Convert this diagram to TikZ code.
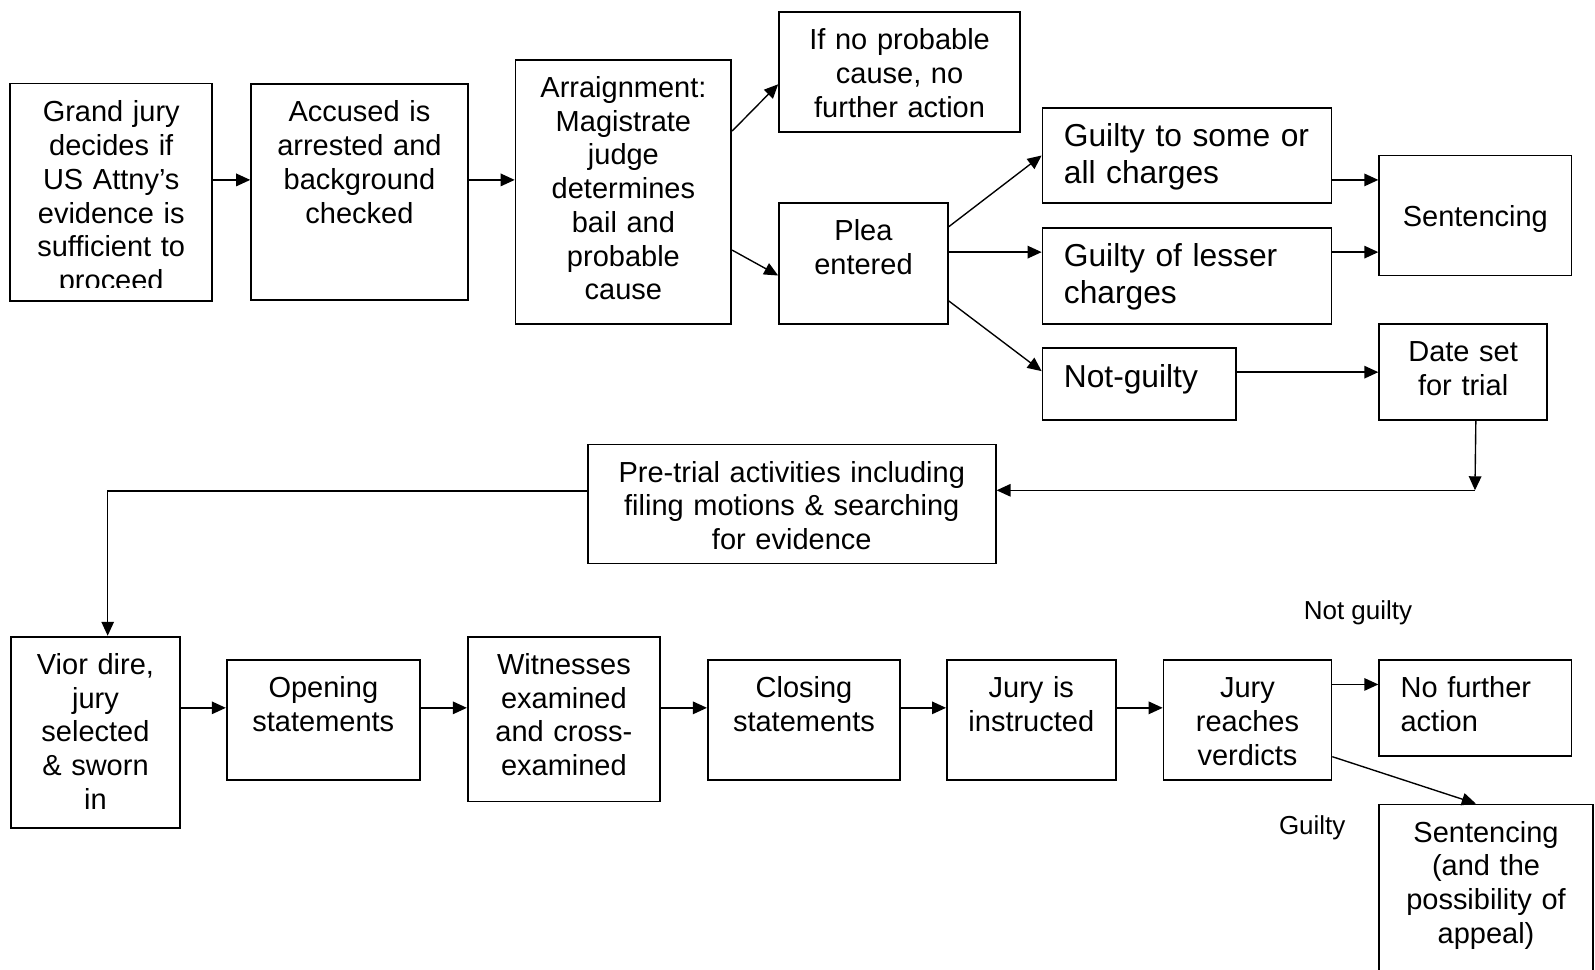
\documentclass[tikz,border=0pt]{standalone}
\usepackage{fontspec}
\setmainfont{Liberation Sans}
\usepackage{tikz}
\usetikzlibrary{arrows.meta,positioning,calc}

\newlength\pxu
\setlength\pxu{0.407pt}
\newcommand{\normtxt}{\fontsize{11.6}{13.5}\selectfont}
\newcommand{\bigtxt}{\fontsize{12.7}{15.05}\selectfont}

\tikzset{
	box/.style 2 args={draw, line width=0.7pt, inner sep=0pt, anchor=north west, align=center,
		text width=#1\pxu, text height=37\pxu, text depth=#2\pxu, font=\normtxt},
	lbox/.style 2 args={box={#1}{#2}, align=left, inner xsep=21\pxu},
	bigbox/.style={font=\bigtxt, text height=38\pxu},
	arr/.style={line width=0.55pt, -{Triangle[length=5.6pt,width=5pt]}},
	lbl/.style={font=\fontsize{10.4}{12.5}\selectfont, inner sep=0pt}
}

\begin{document}
\begin{tikzpicture}[x=\pxu, y=-\pxu]
	\useasboundingbox (0,0) rectangle (1568,953);
	% first row
	\begin{scope}
		\clip (10,82) rectangle (207,283);
		\node[box={197}{175}, draw=none] (grand) at (10,82) {Grand jury\\decides if\\US Attny’s\\evidence is\\sufficient to\\proceed};
	\end{scope}
	\draw[line width=0.7pt] (grand.north west) rectangle (grand.south east);
	\node[box={213}{175}] (accused) at (246,82) {Accused is\\arrested and\\background\\checked};
	\node[box={212}{223}] (arraign) at (506,58) {Arraignment:\\Magistrate\\judge\\determines\\bail and\\probable\\cause};
	\node[box={237}{81}] (ifno) at (765,11) {If no probable\\cause, no\\further action};
	\node[box={166}{82}] (plea) at (765,199) {Plea\\entered};
	\node[lbox={242}{56}, bigbox] (gsome) at (1024,105) {Guilty to some or\\all charges};
	\node[lbox={242}{57}, bigbox] (lesser) at (1024,223) {Guilty of lesser\\charges};
	\node[lbox={148}{32}, bigbox, text height=39\pxu] (notg) at (1024,341) {Not-guilty};
	\node[box={189}{48}, text height=70\pxu] (sent1) at (1355,152) {Sentencing};
	\node[box={165}{57}] (date) at (1355,318) {Date set\\for trial};
	\node[box={401}{80}] (pre) at (577,436) {Pre-trial activities including\\filing motions \& searching\\for evidence};
	% trial row
	\node[box={166}{151}] (vior) at (10,625) {Vior dire,\\jury\\selected\\\& sworn\\in};
	\node[box={190}{81}] (open) at (222,648) {Opening\\statements};
	\node[box={189}{125}] (witn) at (459,625) {Witnesses\\examined\\and cross-\\examined};
	\node[box={189}{81}] (close) at (695,648) {Closing\\statements};
	\node[box={166}{81}] (instr) at (930,648) {Jury is\\instructed};
	\node[box={165}{81}] (reach) at (1143,648) {Jury\\reaches\\verdicts};
	\node[lbox={147}{57}] (nofur) at (1355,648) {No further\\action};
	\node[box={210}{163}] (sent2) at (1355,790) {Sentencing\\(and the\\possibility of\\appeal)};
	\node[lbl] (ngtxt) at (1335,602) {Not guilty};
	\node[lbl] (gtxt) at (1290,814) {Guilty};

	\draw[arr] ([yshift=12\pxu]grand.east) -- ([yshift=12\pxu]accused.west);
	\draw[arr] ([yshift=12\pxu]accused.east) -- ([yshift=12\pxu]arraign.west);
	\draw[arr] ([yshift=60\pxu]arraign.east) -- ([yshift=-12\pxu]ifno.west);
	\draw[arr] ([yshift=-57\pxu]arraign.east) -- ([yshift=-11.5\pxu]plea.west);
	\draw[arr] ([yshift=36.5\pxu]plea.east) -- (gsome.west);
	\draw[arr] ([yshift=11.5\pxu]plea.east) -- ([yshift=23.5\pxu]lesser.west);
	\draw[arr] ([yshift=-36.5\pxu]plea.east) -- ([yshift=12.5\pxu]notg.west);
	\draw[arr] ([yshift=-24\pxu]gsome.east) -- ([yshift=35\pxu]sent1.west);
	\draw[arr] ([yshift=23.5\pxu]lesser.east) -- ([yshift=-36\pxu]sent1.west);
	\draw[arr] ([yshift=11.5\pxu]notg.east) -- (date.west);
	\coordinate (turn) at (1450,482);
	\draw[arr] ([xshift=12.5\pxu]date.south) -- (turn);
	\draw[arr] (turn) -- (turn -| pre.east);
	\draw[arr] ([yshift=12.5\pxu]pre.west) -| ([xshift=12\pxu]vior.north);
	\draw[arr] ([yshift=24\pxu]vior.east) -- ([yshift=12\pxu]open.west);
	\draw[arr] ([yshift=12\pxu]open.east) -- ([yshift=11\pxu]witn.west);
	\draw[arr] ([yshift=11\pxu]witn.east) -- ([yshift=12\pxu]close.west);
	\draw[arr] ([yshift=12\pxu]close.east) -- ([yshift=12\pxu]instr.west);
	\draw[arr] ([yshift=12\pxu]instr.east) -- ([yshift=12\pxu]reach.west);
	\draw[arr] ([yshift=35\pxu]reach.east) -- ([yshift=23\pxu]nofur.west);
	\draw[arr] ([yshift=-36\pxu]reach.east) -- ([xshift=-10\pxu]sent2.north);
\end{tikzpicture}
\end{document}
